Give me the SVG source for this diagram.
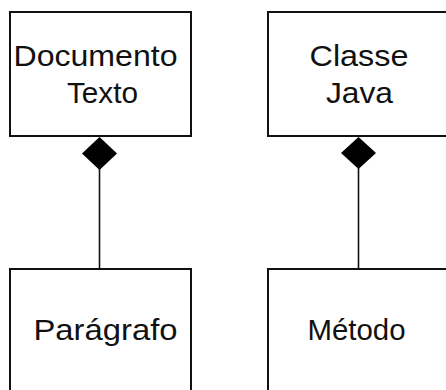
<svg xmlns="http://www.w3.org/2000/svg" width="446" height="390" viewBox="0 0 446 390">
<style>
.box{fill:#fff;stroke:#111;stroke-width:2}
.lbl{font-family:"Liberation Sans",Arial,sans-serif;font-size:30px;fill:#111;text-anchor:middle}
.conn{stroke:#111;stroke-width:1.6;fill:none}
.dia{fill:#000}
</style>
<rect width="446" height="390" fill="#fff"/>
<g id="connectors">
<line class="conn" x1="99.5" y1="168" x2="99.5" y2="269"/>
<path class="dia" d="M99.5,137 L117,153.5 L99.5,170 L82,153.5 Z"/>
<line class="conn" x1="358.5" y1="168" x2="358.5" y2="269"/>
<path class="dia" d="M358.5,137 L376,153 L358.5,169 L341,153 Z"/>
</g>
<g id="documento-texto">
<rect class="box" x="10" y="12" width="181" height="124"/>
<text class="lbl" x="95.5" y="66" textLength="164" lengthAdjust="spacingAndGlyphs">Documento</text>
<text class="lbl" x="102.5" y="103" textLength="71" lengthAdjust="spacingAndGlyphs">Texto</text>
</g>
<g id="classe-java">
<rect class="box" x="268" y="12" width="190" height="124"/>
<text class="lbl" x="359" y="66" textLength="99" lengthAdjust="spacingAndGlyphs">Classe</text>
<text class="lbl" x="359.5" y="103" textLength="67" lengthAdjust="spacingAndGlyphs">Java</text>
</g>
<g id="paragrafo">
<rect class="box" x="10" y="269" width="181" height="130"/>
<text class="lbl" x="105.5" y="340" textLength="144" lengthAdjust="spacingAndGlyphs">Parágrafo</text>
</g>
<g id="metodo">
<rect class="box" x="268" y="269" width="190" height="130"/>
<text class="lbl" x="356.5" y="340" textLength="98" lengthAdjust="spacingAndGlyphs">Método</text>
</g>
</svg>
